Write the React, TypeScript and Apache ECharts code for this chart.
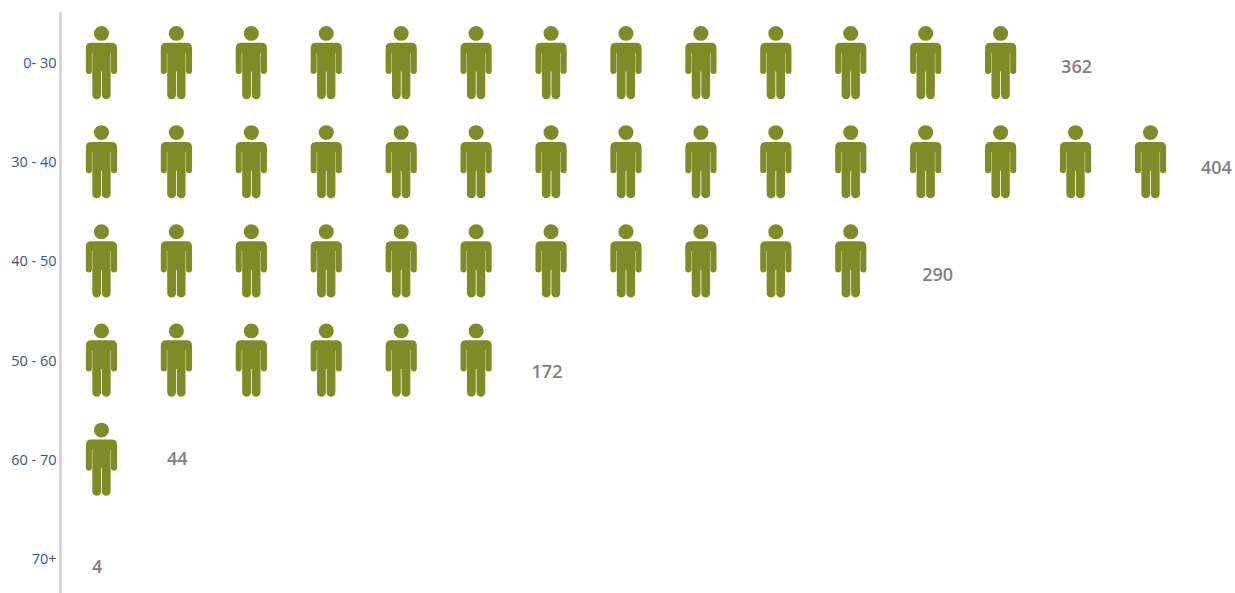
import React, { useEffect, useRef } from "react";
import * as echarts from "echarts";

// Age bands, top to bottom
const ageBands = ["0- 30", "30 - 40", "40 - 50", "50 - 60", "60 - 70", "70+"];
// Head counts printed beside each row
const headCounts = [362, 404, 290, 172, 44, 4];
// Whole figures drawn in each row
const figureCounts = [13, 15, 11, 6, 1, 0];

// Hand placement of the count labels relative to the end of each row
const labelNudges = [
  [23, 3],
  [13, 5],
  [34, 13],
  [18, 11],
  [28, -1],
  [28, 8],
];

const PERSON =
  "path://M15.5 0A7.5 7.5 0 1 1 15.5 15A7.5 7.5 0 1 1 15.5 0Z" +
  "M5.5 17H25.5Q31 17 31 22.5V45.5A3 3 0 0 1 25 45.5V27H24.6V69.5A3.5 3.5 0 0 1 15.9 69.5V46H15.1V69.5A3.5 3.5 0 0 1 6.4 69.5V27H6V45.5A3 3 0 0 1 0 45.5V22.5Q0 17 5.5 17Z";

const SLOT = 74.93;
const GRID_LEFT = 60.5;
const ZERO_X = 64;
// The repeat pattern divides the whole axis into slots, so the axis spans a whole number of them
const AXIS_SLOTS = 16;

export default function App() {
  const ref = useRef<HTMLDivElement>(null);

  useEffect(() => {
    if (!ref.current) return;
    const chart = echarts.init(ref.current, undefined, { renderer: "svg" });
    chart.setOption({
      animation: false,
      backgroundColor: "#ffffff",
      grid: {
        left: GRID_LEFT,
        top: 13,
        width: ZERO_X - GRID_LEFT + AXIS_SLOTS * SLOT,
        height: 595,
        outerBoundsMode: "none",
      },
      xAxis: {
        type: "value",
        min: (GRID_LEFT - ZERO_X) / SLOT,
        max: AXIS_SLOTS,
        show: false,
      },
      yAxis: {
        type: "category",
        inverse: true,
        data: ageBands,
        axisLine: { show: true, onZero: false, lineStyle: { color: "#cfcfcf", width: 2.5 } },
        axisTick: { show: false },
        axisLabel: {
          color: "#3a5488",
          fontFamily: "Open Sans",
          fontSize: 14.5,
          margin: 4,
          padding: [2, 0, 0, 0],
        },
      },
      series: [
        {
          type: "pictorialBar",
          symbol: PERSON,
          symbolSize: [31, 73],
          symbolRepeat: true,
          // Trailing "!" keeps a half gap after the last figure, so the row length is count × slot
          symbolMargin: `${(SLOT - 31) / 2}!`,
          itemStyle: { color: "#7f8b27" },
          data: figureCounts.map((count, i) => ({
            value: count,
            label: {
              show: true,
              position: "right",
              distance: 0,
              offset: labelNudges[i],
              formatter: String(headCounts[i]),
              color: "#808080",
              fontFamily: "Open Sans",
              fontWeight: 600,
              fontSize: 18,
            },
          })),
        },
      ],
    });
    return () => chart.dispose();
  }, []);

  return (
    <div
      ref={ref}
      style={{ position: "absolute", left: 0, top: 0, width: 1235, height: 593, overflow: "hidden" }}
    />
  );
}
